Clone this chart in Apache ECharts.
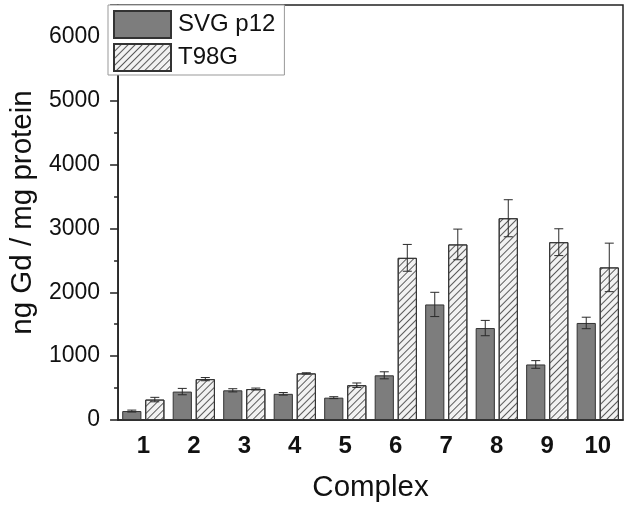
<!DOCTYPE html>
<html>
<head>
<meta charset="utf-8">
<script src="https://cdn.jsdelivr.net/npm/echarts@6/dist/echarts.min.js"></script>
<style>
html,body{margin:0;padding:0;background:#fff;}
#chart{width:628px;height:511px;}
</style>
</head>
<body>
<div id="chart"></div>
<script>
var categories = ['1','2','3','4','5','6','7','8','9','10'];
var svgValues = [140, 445, 465, 410, 350, 700, 1810, 1440, 870, 1520];
var svgErrors = [15, 50, 25, 20, 15, 55, 190, 120, 60, 90];
var t98Values = [320, 640, 485, 730, 545, 2540, 2750, 3160, 2785, 2390];
var t98Errors = [35, 25, 15, 10, 35, 210, 240, 290, 210, 380];
var yTicks = [0, 1000, 2000, 3000, 4000, 5000, 6000];

var FONT = 'Liberation Sans, Arial, sans-serif';
var BAR_W = 0.38, GAP = 0.2;

function errData(vals, errs) {
  return vals.map(function (v, i) { return [i, v, errs[i]]; });
}
function errRender(sign) {
  return function (params, api) {
    var i = api.value(0), v = api.value(1), e = api.value(2);
    var band = api.size([1, 0])[0];
    var bw = band * BAR_W;
    var off = sign * bw * (1 + GAP) / 2;
    var top = api.coord([i, v + e]);
    var bot = api.coord([i, v - e]);
    var cx = top[0] + off;
    var cap = 4.5;
    var st = { stroke: '#2a2a2a', lineWidth: 1 };
    return { type: 'group', children: [
      { type: 'line', shape: { x1: cx, y1: top[1], x2: cx, y2: bot[1] }, style: st },
      { type: 'line', shape: { x1: cx - cap, y1: top[1], x2: cx + cap, y2: top[1] }, style: st },
      { type: 'line', shape: { x1: cx - cap, y1: bot[1], x2: cx + cap, y2: bot[1] }, style: st }
    ]};
  };
}

var chart = echarts.init(document.getElementById('chart'), null, { renderer: 'canvas' });
chart.setOption({
  animation: false,
  backgroundColor: '#fff',
  textStyle: { fontFamily: FONT },
  grid: { left: 107, top: 5, right: 5, bottom: 91, show: true, borderColor: '#222', borderWidth: 1.5, backgroundColor: 'transparent' },
  legend: {
    data: ['SVG p12', 'T98G'],
    orient: 'vertical', left: 108, top: 5,
    itemWidth: 57, itemHeight: 27, itemGap: 4,
    padding: [5, 9, 3, 5],
    borderColor: '#999', borderWidth: 1, backgroundColor: '#fff',
    icon: 'rect',
    textStyle: { fontSize: 24, fontFamily: FONT, color: '#111', padding: [0, 0, 0, 2] }
  },
  xAxis: [{
    type: 'category', data: categories, position: 'bottom',
    axisLine: { lineStyle: { color: '#222', width: 1.5 } },
    axisTick: { alignWithLabel: true, length: 7, lineStyle: { color: '#222', width: 1.5 } },
    axisLabel: { fontSize: 24, fontWeight: 'bold', color: '#111', margin: 14, fontFamily: FONT },
    name: 'Complex', nameLocation: 'middle', nameGap: 53,
    nameTextStyle: { fontSize: 29.5, color: '#111', fontFamily: FONT }
  }, {
    type: 'category', data: categories, position: 'bottom',
    axisLine: { show: false },
    axisTick: { length: 4, lineStyle: { color: '#222', width: 1.5 } },
    axisLabel: { show: false }
  }],
  yAxis: {
    type: 'value', min: 0, max: 6500, interval: 1000,
    axisLine: { show: true, lineStyle: { color: '#222', width: 1.5 } },
    axisTick: { show: true, length: 8, lineStyle: { color: '#222', width: 1.5 } },
    minorTick: { show: true, splitNumber: 2, length: 4, lineStyle: { color: '#222', width: 1.5 } },
    splitLine: { show: false },
    axisLabel: { fontSize: 23, color: '#111', margin: 18, fontFamily: FONT, showMaxLabel: false,
      formatter: function (v) { return yTicks.indexOf(v) >= 0 ? String(v) : ''; } },
    name: 'ng Gd / mg protein', nameLocation: 'middle', nameGap: 74,
    nameTextStyle: { fontSize: 29.5, color: '#111', fontFamily: FONT }
  },
  series: [{
    name: 'SVG p12', type: 'bar', data: svgValues,
    barWidth: (BAR_W * 100) + '%', barGap: (GAP * 100) + '%',
    itemStyle: { color: '#7d7d7d', borderColor: '#333', borderWidth: 1 }
  }, {
    name: 'T98G', type: 'bar', data: t98Values,
    barWidth: (BAR_W * 100) + '%', barGap: (GAP * 100) + '%',
    itemStyle: {
      color: '#f2f2f2', borderColor: '#333', borderWidth: 1,
      decal: { symbol: 'rect', symbolSize: 1, dashArrayX: [1, 0], dashArrayY: [1, 3.5], rotation: -Math.PI / 4, color: '#5a5a5a' }
    }
  }, {
    type: 'custom', z: 5, data: errData(svgValues, svgErrors), renderItem: errRender(-1), silent: true
  }, {
    type: 'custom', z: 5, data: errData(t98Values, t98Errors), renderItem: errRender(1), silent: true
  }]
});
</script>
</body>
</html>
